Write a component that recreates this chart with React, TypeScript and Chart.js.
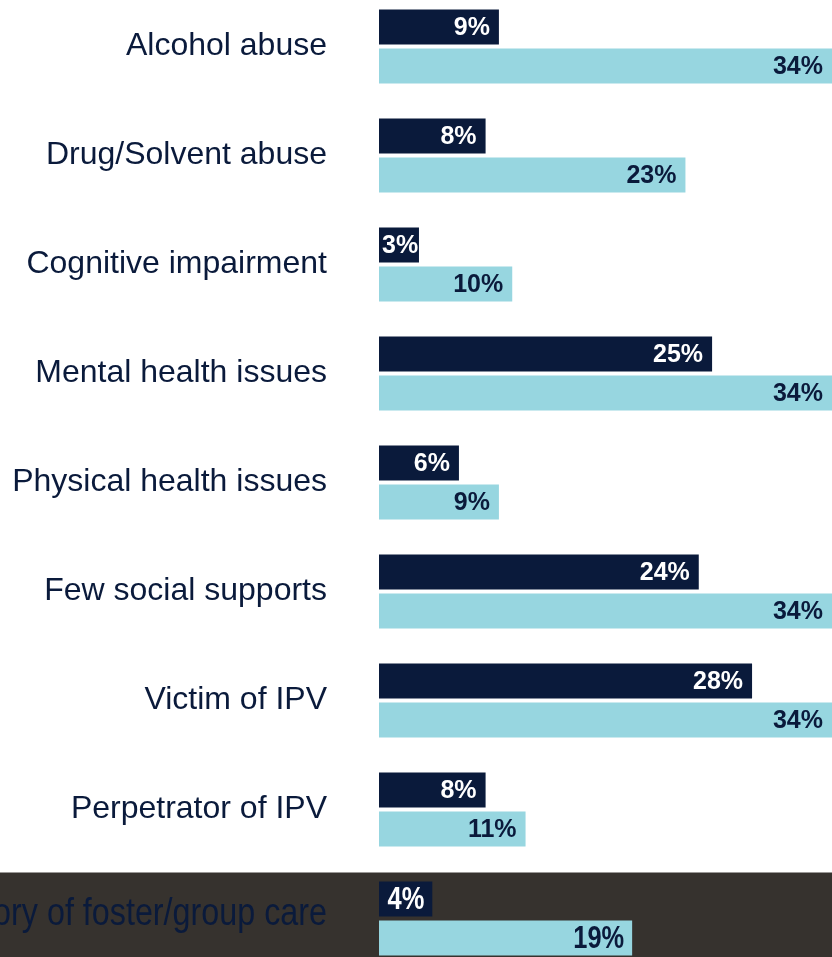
import React, { useEffect, useRef } from "react";
import { Chart, registerables } from "chart.js";

Chart.register(...registerables);

const categories = [
  "Alcohol abuse",
  "Drug/Solvent abuse",
  "Cognitive impairment",
  "Mental health issues",
  "Physical health issues",
  "Few social supports",
  "Victim of IPV",
  "Perpetrator of IPV",
  "History of foster/group care",
];
const darkValues = [9, 8, 3, 25, 6, 24, 28, 8, 4];
const lightValues = [34, 23, 10, 34, 9, 34, 34, 11, 19];

const NAVY = "#0A1A3B";
const LIGHT = "#97D6E0";
const BAND = "#36322E";
const FONT = '"Liberation Sans", Arial, sans-serif';
const LAST = categories.length - 1;
const NARROW_SCALE = 0.82;
const LABEL_SCALE = 0.85;

const bandPlugin = {
  id: "band",
  beforeDraw(chart: any) {
    const y = chart.scales.y;
    const top = y.getPixelForValue(LAST) - 46;
    const ctx = chart.ctx;
    ctx.save();
    ctx.fillStyle = BAND;
    ctx.fillRect(0, top, chart.width, chart.height - top);
    ctx.restore();
  },
};

const labelPlugin = {
  id: "barLabels",
  afterDatasetsDraw(chart: any) {
    const ctx = chart.ctx;
    ctx.save();
    ctx.textAlign = "right";
    ctx.textBaseline = "middle";
    chart.data.datasets.forEach((ds: any, di: number) => {
      const meta = chart.getDatasetMeta(di);
      meta.data.forEach((el: any, i: number) => {
        const last = i === LAST;
        const txt = `${ds.data[i]}%`;
        ctx.fillStyle = di === 0 ? "#FFFFFF" : NAVY;
        if (last) {
          ctx.font = `bold 31px ${FONT}`;
          const w = ctx.measureText(txt).width * NARROW_SCALE;
          const x = Math.max(el.x - 8, el.base + w + 3);
          ctx.save();
          ctx.translate(x, el.y + 1);
          ctx.scale(NARROW_SCALE, 1);
          ctx.fillText(txt, 0, 0);
          ctx.restore();
        } else {
          ctx.font = `bold 25px ${FONT}`;
          const w = ctx.measureText(txt).width;
          const x = Math.max(el.x - 9, el.base + w + 3);
          ctx.fillText(txt, x, el.y + 1);
        }
      });
    });
    ctx.restore();
  },
  afterDraw(chart: any) {
    const y = chart.scales.y;
    const ctx = chart.ctx;
    ctx.save();
    ctx.textAlign = "right";
    ctx.textBaseline = "middle";
    ctx.fillStyle = NAVY;
    ctx.font = `38px ${FONT}`;
    ctx.translate(y.right - 52, y.getPixelForValue(LAST) - 4);
    ctx.scale(LABEL_SCALE, 1);
    ctx.fillText(categories[LAST], 0, 0);
    ctx.restore();
  },
};

export default function App() {
  const ref = useRef<HTMLCanvasElement | null>(null);
  useEffect(() => {
    if (!ref.current) return;
    const chart = new Chart(ref.current, {
      type: "bar",
      data: {
        labels: categories,
        datasets: [
          {
            data: darkValues,
            backgroundColor: NAVY,
            categoryPercentage: 0.716,
            barPercentage: 0.897,
          },
          {
            data: lightValues,
            backgroundColor: LIGHT,
            categoryPercentage: 0.716,
            barPercentage: 0.897,
          },
        ],
      },
      options: {
        indexAxis: "y",
        responsive: false,
        animation: false,
        layout: { padding: 0 },
        plugins: {
          legend: { display: false },
          tooltip: { enabled: false },
        },
        scales: {
          x: { display: false, min: 0, max: 34 },
          y: {
            grid: { display: false, drawTicks: false },
            border: { display: false },
            afterFit: (s: any) => {
              s.width = 379;
              s.paddingTop = 0;
              s.paddingBottom = 0;
            },
            ticks: {
              padding: 52,
              autoSkip: false,
              color: (c: any) => (c.index === LAST ? "rgba(0,0,0,0)" : NAVY),
              font: { family: FONT, size: 32 },
            },
          },
        },
      },
      plugins: [bandPlugin, labelPlugin],
    });
    return () => chart.destroy();
  }, []);
  return (
    <div
      style={{
        position: "fixed",
        left: 0,
        top: 0,
        width: 832,
        height: 957,
        overflow: "hidden",
        background: "#FFFFFF",
      }}
    >
      <canvas
        ref={ref}
        width={832}
        height={981}
        style={{ position: "absolute", left: 0, top: -8, width: 832, height: 981 }}
      />
    </div>
  );
}
